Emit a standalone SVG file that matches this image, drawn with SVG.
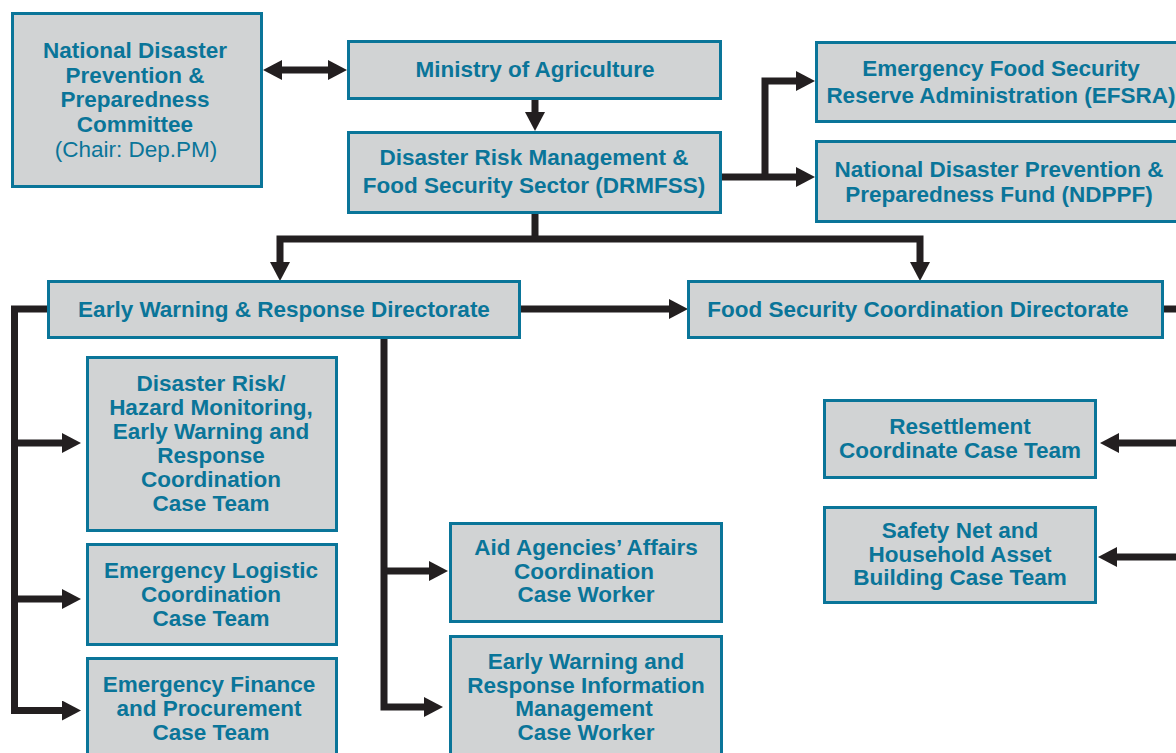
<svg xmlns="http://www.w3.org/2000/svg" width="1176" height="753" viewBox="0 0 1176 753">
<style>
.box{fill:#d1d3d4;stroke:#0a7599;stroke-width:3}
.t{font-family:"Liberation Sans",Arial,sans-serif;font-weight:bold;font-size:22.5px;fill:#0a7599;text-anchor:middle}
.r{font-weight:normal}
.c{fill:none;stroke:#231f20;stroke-width:7;stroke-linejoin:miter}
</style>
<defs>
<marker id="ah" markerUnits="userSpaceOnUse" markerWidth="19" markerHeight="20" refX="1" refY="10" orient="auto-start-reverse" viewBox="0 0 19 20">
<path d="M0,0 L19,10 L0,20 Z" fill="#231f20"/>
</marker>
</defs>
<rect width="1176" height="753" fill="#ffffff"/>
<g id="connectors">
<path class="c" d="M281,70 H329" marker-start="url(#ah)" marker-end="url(#ah)"/>
<path class="c" d="M535,100 V113" marker-end="url(#ah)"/>
<path class="c" d="M722,177 H797" marker-end="url(#ah)"/>
<path class="c" d="M765,177 V81 H797" marker-end="url(#ah)"/>
<path class="c" d="M535,214 V239"/>
<path class="c" d="M280,263 V239 H920 V263" marker-start="url(#ah)" marker-end="url(#ah)"/>
<path class="c" d="M520,309 H670" marker-end="url(#ah)"/>
<path class="c" d="M1163,309 H1176"/>
<path class="c" d="M48,309 H14.5 V710.5 H63" marker-end="url(#ah)"/>
<path class="c" d="M14.5,443 H63" marker-end="url(#ah)"/>
<path class="c" d="M14.5,599 H63" marker-end="url(#ah)"/>
<path class="c" d="M384,338 V707 H425" marker-end="url(#ah)"/>
<path class="c" d="M384,571 H430" marker-end="url(#ah)"/>
<path class="c" d="M1176,443 H1118" marker-end="url(#ah)"/>
<path class="c" d="M1176,557 H1116" marker-end="url(#ah)"/>
</g>
<g id="ndppc">
<rect class="box" x="12.5" y="13.5" width="249" height="173"/>
<text class="t" x="135" y="58">National Disaster</text>
<text class="t" x="135" y="83">Prevention &amp;</text>
<text class="t" x="135" y="107">Preparedness</text>
<text class="t" x="135" y="132">Committee</text>
<text class="t r" x="136" y="157">(Chair: Dep.PM)</text>
</g>
<g id="moa">
<rect class="box" x="348.5" y="41.5" width="372" height="57"/>
<text class="t" x="535" y="77">Ministry of Agriculture</text>
</g>
<g id="drmfss">
<rect class="box" x="348.5" y="132.5" width="372" height="80"/>
<text class="t" x="534" y="165">Disaster Risk Management &amp;</text>
<text class="t" x="534" y="193">Food Security Sector (DRMFSS)</text>
</g>
<g id="efsra">
<rect class="box" x="816.5" y="42.5" width="380" height="79"/>
<text class="t" x="1001" y="76">Emergency Food Security</text>
<text class="t" x="1001" y="103">Reserve Administration (EFSRA)</text>
</g>
<g id="ndppf">
<rect class="box" x="816.5" y="141.5" width="380" height="80"/>
<text class="t" x="999" y="177">National Disaster Prevention &amp;</text>
<text class="t" x="999" y="202">Preparedness Fund (NDPPF)</text>
</g>
<g id="ewrd">
<rect class="box" x="48.5" y="281.5" width="471" height="56"/>
<text class="t" x="284" y="317">Early Warning &amp; Response Directorate</text>
</g>
<g id="fscd">
<rect class="box" x="688.5" y="281.5" width="474" height="56"/>
<text class="t" x="918" y="317">Food Security Coordination Directorate</text>
</g>
<g id="hazard">
<rect class="box" x="87.5" y="357.5" width="249" height="173"/>
<text class="t" x="211" y="391">Disaster Risk/</text>
<text class="t" x="211" y="415">Hazard Monitoring,</text>
<text class="t" x="211" y="439">Early Warning and</text>
<text class="t" x="211" y="463">Response</text>
<text class="t" x="211" y="487">Coordination</text>
<text class="t" x="211" y="511">Case Team</text>
</g>
<g id="logistic">
<rect class="box" x="87.5" y="544.5" width="249" height="100"/>
<text class="t" x="211" y="578">Emergency Logistic</text>
<text class="t" x="211" y="602">Coordination</text>
<text class="t" x="211" y="626">Case Team</text>
</g>
<g id="finance">
<rect class="box" x="87.5" y="658.5" width="249" height="120"/>
<text class="t" x="209" y="692">Emergency Finance</text>
<text class="t" x="209" y="716">and Procurement</text>
<text class="t" x="211" y="740">Case Team</text>
</g>
<g id="aid">
<rect class="box" x="450.5" y="523.5" width="271" height="98"/>
<text class="t" x="586" y="555">Aid Agencies’ Affairs</text>
<text class="t" x="584" y="579">Coordination</text>
<text class="t" x="586" y="602">Case Worker</text>
</g>
<g id="ewrim">
<rect class="box" x="450.5" y="636.5" width="271" height="130"/>
<text class="t" x="586" y="669">Early Warning and</text>
<text class="t" x="586" y="693">Response Information</text>
<text class="t" x="584" y="716">Management</text>
<text class="t" x="586" y="740">Case Worker</text>
</g>
<g id="resettlement">
<rect class="box" x="824.5" y="400.5" width="271" height="77"/>
<text class="t" x="960" y="434">Resettlement</text>
<text class="t" x="960" y="458">Coordinate Case Team</text>
</g>
<g id="safetynet">
<rect class="box" x="824.5" y="507.5" width="271" height="95"/>
<text class="t" x="960" y="538">Safety Net and</text>
<text class="t" x="960" y="562">Household Asset</text>
<text class="t" x="960" y="585">Building Case Team</text>
</g>
</svg>
